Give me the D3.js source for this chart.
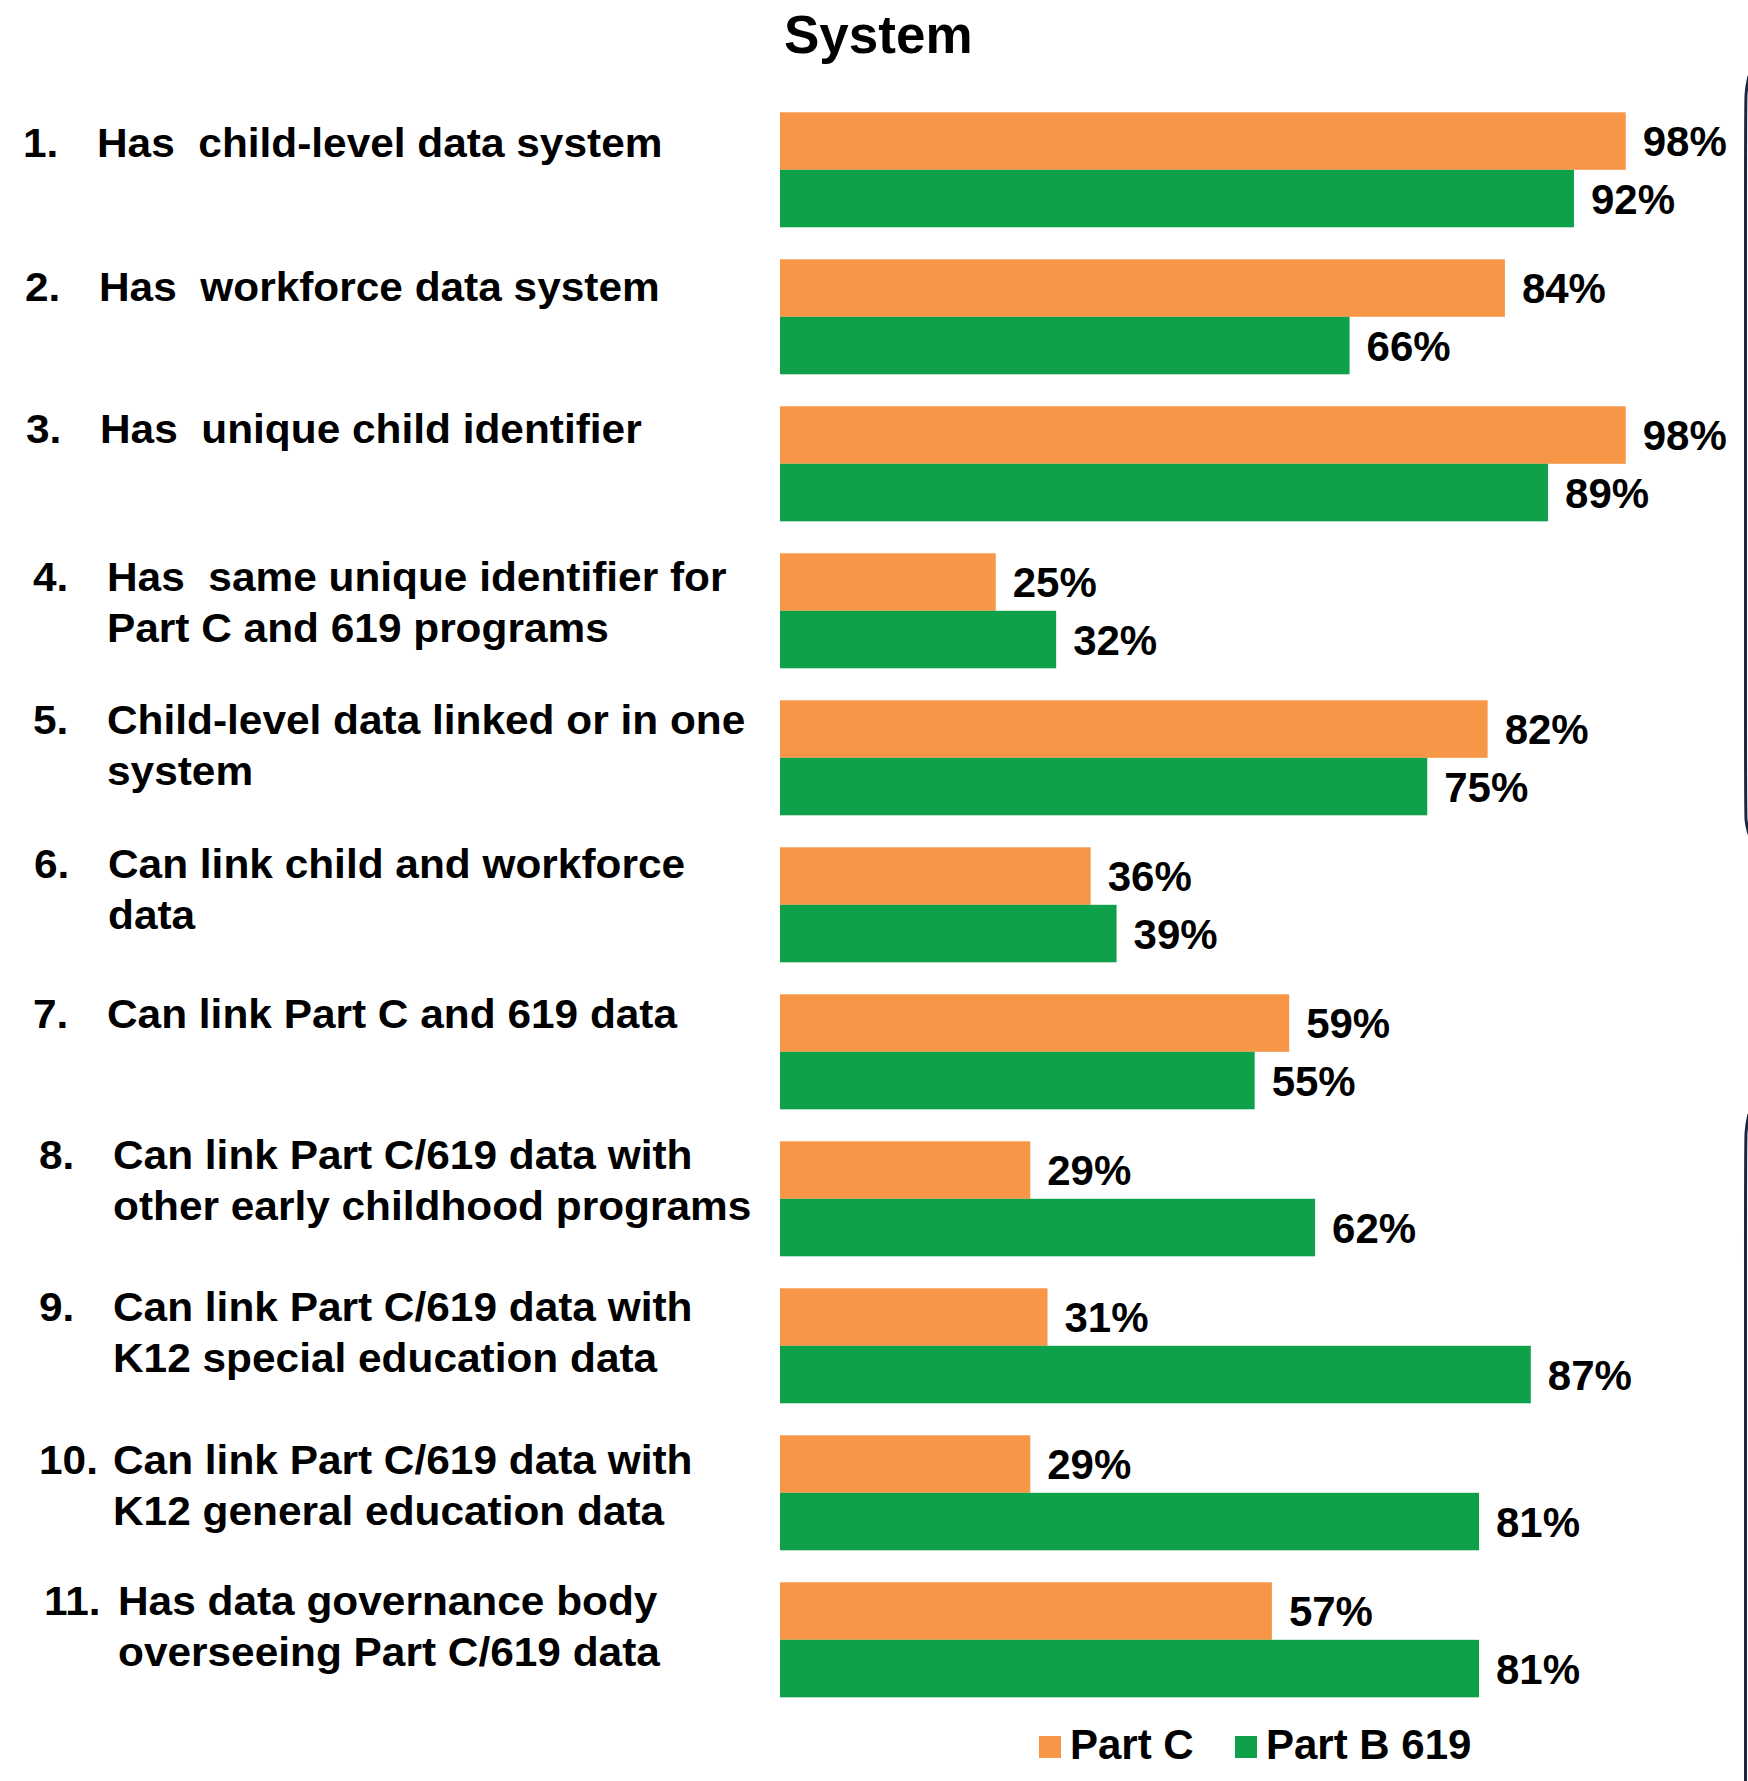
<!DOCTYPE html>
<html>
<head>
<meta charset="utf-8">
<script src="https://cdn.jsdelivr.net/npm/d3@7"></script>
<style>
  html, body { margin: 0; padding: 0; background: #fff; }
  text { font-family: "Liberation Sans", Arial, sans-serif; font-weight: bold; fill: #000; }
</style>
</head>
<body>
<div id="chart"></div>
<script>
// data
const categories = [
    'Has  child-level data system',
    'Has  workforce data system',
    'Has  unique child identifier',
    'Has  same unique identifier for\nPart C and 619 programs',
    'Child-level data linked or in one\nsystem',
    'Can link child and workforce\ndata',
    'Can link Part C and 619 data',
    'Can link Part C/619 data with\nother early childhood programs',
    'Can link Part C/619 data with\nK12 special education data',
    'Can link Part C/619 data with\nK12 general education data',
    'Has data governance body\noverseeing Part C/619 data'
];
const seriesNames = ['Part C', 'Part B 619'];
const partC   = [98, 84, 98, 25, 82, 36, 59, 29, 31, 29, 57];
const partB619 = [92, 66, 89, 32, 75, 39, 55, 62, 87, 81, 81];

const colors = ['#F79646', '#0FA04A'];
// the label boxes in the original sit a bit unevenly, so nudge them
const labelIndent = [0, 2, 3, 10, 10, 11, 10, 16, 16, 16, 21];
const labelNudge = [7, 4, -1, 0, -4, -7, -4, -10, -5, 1, -5];

const width = 1748, height = 1781;

const svg = d3.select('#chart').append('svg')
    .attr('width', width)
    .attr('height', height);

const x = d3.scaleLinear()
    .domain([0, 100])
    .range([780, 1643]);

const y = d3.scaleBand()
    .domain(d3.range(categories.length))
    .range([96.3, 1713.3])
    .paddingInner(32 / 147)
    .paddingOuter(16 / 147);

const ySub = d3.scaleBand()
    .domain(seriesNames)
    .range([0, y.bandwidth()]);

const rows = categories.map((c, i) => ({
    i: i,
    label: c,
    values: [
        { name: seriesNames[0], v: partC[i] },
        { name: seriesNames[1], v: partB619[i] }
    ]
}));

// title (only its second line is in frame)
svg.append('text')
    .attr('x', 784)
    .attr('y', 53)
    .style('font-size', '53px')
    .text('System');

const groups = svg.append('g').selectAll('g')
    .data(rows)
    .enter().append('g')
    .attr('transform', d => `translate(0,${y(d.i)})`);

groups.selectAll('rect')
    .data(d => d.values)
    .enter().append('rect')
    .attr('x', x(0))
    .attr('y', d => ySub(d.name))
    .attr('width', d => x(d.v) - x(0))
    .attr('height', ySub.bandwidth())
    .attr('fill', (d, j) => colors[j]);

groups.selectAll('text.val')
    .data(d => d.values)
    .enter().append('text')
    .attr('class', 'val')
    .attr('x', d => x(d.v) + 17)
    .attr('y', d => ySub(d.name) + ySub.bandwidth() / 2)
    .attr('dy', '0.36em')
    .style('font-size', '42px')
    .text(d => d.v + '%');

// category labels - slightly wider than plain Arial in the original
const sx = 1.06;
const labelBase = 97;
const lab = svg.append('g').selectAll('g')
    .data(rows)
    .enter().append('g')
    .attr('transform', d => {
        const base = y(d.i) + ySub.bandwidth() / 2 + 9 + labelNudge[d.i];
        return `translate(${labelBase + labelIndent[d.i]},${base})`;
    });

lab.append('text')
    .attr('transform', `translate(-74,0) scale(${sx},1)`)
    .style('font-size', '40px')
    .text(d => (d.i + 1) + '.');

lab.append('text')
    .attr('transform', `scale(${sx},1)`)
    .style('font-size', '40px')
    .style('white-space', 'pre')
    .selectAll('tspan')
    .data(d => d.label.split('\n'))
    .enter().append('tspan')
    .attr('x', 0)
    .attr('dy', (t, k) => k === 0 ? 0 : 51)
    .text(t => t);

// legend
const legend = svg.append('g').attr('transform', 'translate(1039,1736)');
const legendX = [0, 196];
seriesNames.forEach((n, j) => {
    legend.append('rect')
        .attr('x', legendX[j])
        .attr('y', 0)
        .attr('width', 22)
        .attr('height', 22)
        .attr('fill', colors[j]);
    legend.append('text')
        .attr('x', legendX[j] + 31)
        .attr('y', 23)
        .style('font-size', '42px')
        .text(n);
});

// edges of the neighbouring panel on the right
const edge = d3.line().curve(d3.curveBasis);
svg.append('path')
    .attr('d', edge([[1749, 76], [1745.5, 92], [1745.5, 120], [1745.5, 800], [1745.5, 822], [1749, 834]]))
    .attr('fill', 'none')
    .attr('stroke', '#1b2440')
    .attr('stroke-width', 3);
svg.append('path')
    .attr('d', edge([[1749, 1114], [1745.5, 1130], [1745.5, 1160], [1745.5, 1781]]))
    .attr('fill', 'none')
    .attr('stroke', '#1b2440')
    .attr('stroke-width', 3);
</script>
</body>
</html>
